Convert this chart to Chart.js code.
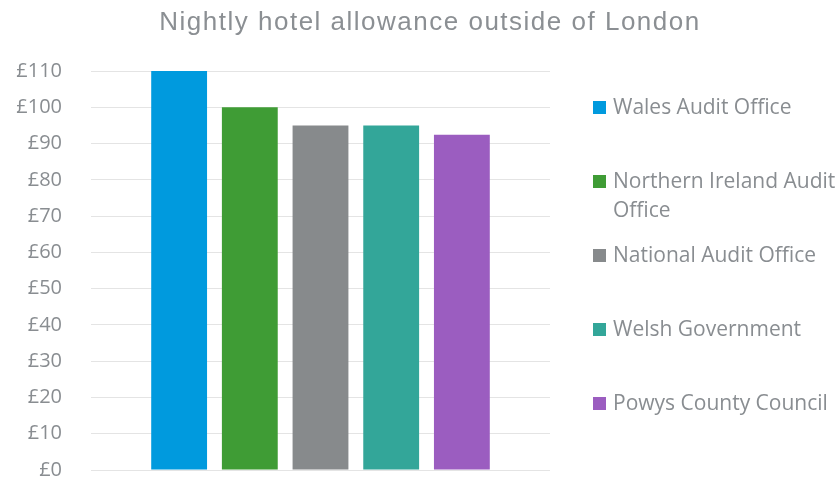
<!DOCTYPE html>
<html>
<head>
<meta charset="utf-8">
<script src="https://cdn.jsdelivr.net/npm/chart.js@4/dist/chart.umd.min.js"></script>
<style>
  html, body { margin: 0; background: #fff; overflow: hidden; }
  #wrap { position: relative; width: 836px; height: 479px; overflow: hidden; }
  #chart { display: block; }
  #title {
    position: absolute; left: 0; width: 860px; top: 6px; letter-spacing: 1.5px;
    text-align: center; font: 26px "Liberation Sans", Arial, sans-serif; color: #8b8f93;
  }
  #legend { position: absolute; left: 593px; top: 92px; font: 21px "Open Sans", sans-serif; color: #898d91; }
  .item { display: flex; align-items: flex-start; height: 74px; }
  .box { width: 13px; height: 13px; margin-top: 9px; margin-right: 7px; flex: none; }
  .txt { width: 232px; line-height: 29px; }
</style>
</head>
<body>
<div id="wrap">
  <canvas id="chart" width="836" height="479"></canvas>
  <div id="title">Nightly hotel allowance outside of London</div>
  <div id="legend"></div>
</div>
<script>
const organisations = ['Wales Audit Office', 'Northern Ireland Audit Office', 'National Audit Office', 'Welsh Government', 'Powys County Council'];
const allowance = [110, 100, 95, 95, 92.4];
const colours = ['#009ade', '#3f9c35', '#878a8c', '#33a699', '#9b5dc0'];
const yTicks = [0, 10, 20, 30, 40, 50, 60, 70, 80, 90, 100, 110];

const ctx = document.getElementById('chart').getContext('2d');

const chart = new Chart(ctx, {
    type: 'bar',
    data: {
        labels: [''],
        datasets: organisations.map((name, i) => ({
            label: name,
            data: [allowance[i]],
            backgroundColor: colours[i],
            categoryPercentage: 0.77,
            barPercentage: 0.79
        }))
    },
    options: {
        responsive: false,
        animation: false,
        layout: { padding: { left: 0, right: 286, top: 71, bottom: 9 } },
        plugins: { legend: { display: false }, title: { display: false }, tooltip: { enabled: false } },
        scales: {
            x: { display: false },
            y: {
                min: 0,
                max: 110,
                afterBuildTicks: axis => { axis.ticks = yTicks.map(v => ({ value: v })); },
                afterFit: axis => {
                    axis.width = 91;
                    axis.paddingTop = 0;
                    axis.paddingBottom = 0;
                },
                border: { display: false },
                grid: { color: '#e4e4e4', lineWidth: 1, drawTicks: false },
                ticks: {
                    padding: 29,
                    color: '#898d91',
                    font: { family: 'Open Sans', size: 20 },
                    callback: v => '£' + v
                }
            }
        }
    }
});

// legend built from the datasets
const legend = document.getElementById('legend');
chart.data.datasets.forEach(ds => {
    const item = document.createElement('div');
    item.className = 'item';
    item.innerHTML = `<span class="box" style="background:${ds.backgroundColor}"></span><span class="txt">${ds.label}</span>`;
    legend.appendChild(item);
});
</script>
</body>
</html>
